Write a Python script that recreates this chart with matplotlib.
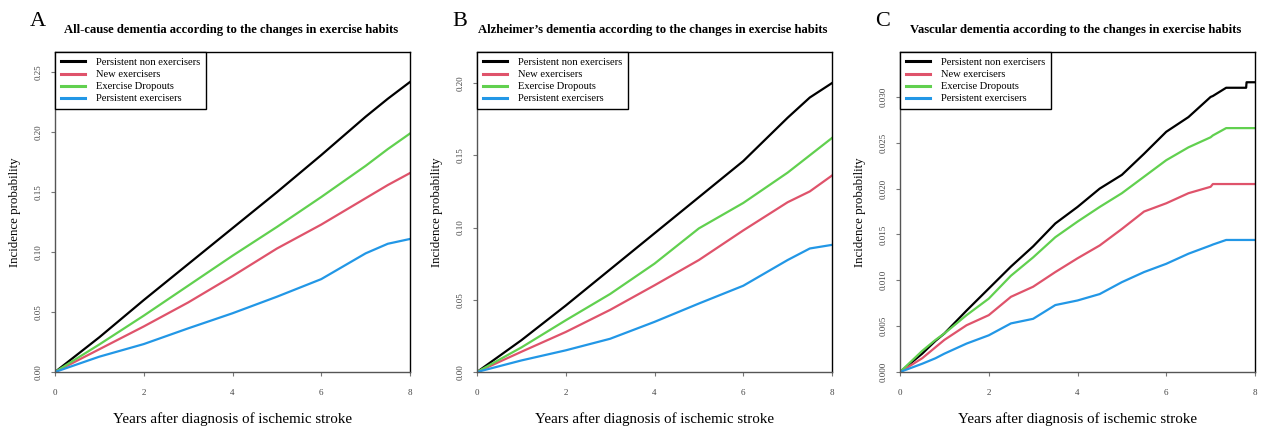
import matplotlib.pyplot as plt
import numpy as np

plt.rcParams['font.family'] = ['Liberation Serif', 'DejaVu Serif']

labels = ['Persistent non exercisers', 'New exercisers', 'Exercise Dropouts', 'Persistent exercisers']
colors = ['black', '#DF536B', '#61D04F', '#2297E6']

# panel A: all-cause dementia
a_years = [0, 1, 2, 3, 4, 5, 6, 7, 7.5, 8]
a_nonex = [0, 0.029, 0.060, 0.090, 0.120, 0.150, 0.181, 0.213, 0.228, 0.242]
a_new = [0, 0.019, 0.038, 0.058, 0.080, 0.103, 0.123, 0.145, 0.156, 0.166]
a_drop = [0, 0.023, 0.047, 0.072, 0.097, 0.121, 0.146, 0.172, 0.186, 0.199]
a_pers = [0, 0.0128, 0.0233, 0.0364, 0.049, 0.0628, 0.0775, 0.099, 0.107, 0.111]

# panel B: Alzheimer's dementia
b_years = [0, 1, 2, 3, 4, 5, 6, 7, 7.5, 8]
b_nonex = [0, 0.022, 0.046, 0.071, 0.096, 0.121, 0.146, 0.176, 0.190, 0.200]
b_new = [0, 0.014, 0.0277, 0.043, 0.060, 0.0775, 0.098, 0.1175, 0.125, 0.136]
b_drop = [0, 0.017, 0.0358, 0.054, 0.075, 0.0994, 0.117, 0.138, 0.150, 0.162]
b_pers = [0, 0.008, 0.015, 0.023, 0.0347, 0.0474, 0.0597, 0.0775, 0.0855, 0.088]

# panel C: vascular dementia
c_years = [0, 0.5, 0.8, 1, 1.5, 2, 2.5, 3, 3.5, 4, 4.5, 5, 5.5, 6, 6.5, 7, 7.05, 7.35, 7.8, 7.81, 8]
c_nonex = [0, 0.0020, 0.0034, 0.0042, 0.0067, 0.0091, 0.0115, 0.0137, 0.0162, 0.0180, 0.0200, 0.0215,
           0.0238, 0.0262, 0.0278, 0.0300, 0.0301, 0.0310, 0.0310, 0.0316, 0.0316]
c_new = [0, 0.0015, 0.0027, 0.0035, 0.0051, 0.0062, 0.0082, 0.0093, 0.0109, 0.0124, 0.0138, 0.0156,
         0.0175, 0.0184, 0.0195, 0.0202, 0.0205, 0.0205, 0.0205, 0.0205, 0.0205]
c_drop = [0, 0.0023, 0.0035, 0.0042, 0.0062, 0.0080, 0.0105, 0.0125, 0.0147, 0.0164, 0.0180, 0.0195,
          0.0213, 0.0231, 0.0245, 0.0256, 0.0258, 0.0266, 0.0266, 0.0266, 0.0266]
c_pers = [0, 0.0009, 0.0015, 0.0020, 0.0031, 0.0040, 0.0053, 0.0058, 0.0073, 0.0078, 0.0085, 0.0098,
          0.0109, 0.0118, 0.0129, 0.0138, 0.0139, 0.0144, 0.0144, 0.0144, 0.0144]

panels = [
    ('A', 'All-cause dementia according to the changes in exercise habits', a_years,
     [a_nonex, a_new, a_drop, a_pers], 0.267, [0, 0.05, 0.10, 0.15, 0.20, 0.25], '%.2f'),
    ('B', 'Alzheimer\u2019s dementia according to the changes in exercise habits', b_years,
     [b_nonex, b_new, b_drop, b_pers], 0.2215, [0, 0.05, 0.10, 0.15, 0.20], '%.2f'),
    ('C', 'Vascular dementia according to the changes in exercise habits', c_years,
     [c_nonex, c_new, c_drop, c_pers], 0.0349, [0, 0.005, 0.010, 0.015, 0.020, 0.025, 0.030], '%.3f'),
]

fig = plt.figure(figsize=(12.64, 4.26), dpi=100)
lefts = [55, 477, 900]

for (letter, title, years, series, ytop, yticks, fmt), left in zip(panels, lefts):
    ax = fig.add_axes([left / 1264, 1 - 372 / 426, 355 / 1264, 320 / 426])
    for vals, col, lab in zip(series, colors, labels):
        ax.plot(years, vals, color=col, lw=1.6, label=lab)
    ax.set_xlim(0, 8)
    ax.set_ylim(0, ytop)
    ax.set_xticks([0, 2, 4, 6, 8])
    ax.set_yticks(yticks)
    ax.set_yticklabels([fmt % v for v in yticks], rotation=90, va='center')
    ax.tick_params(labelsize=6.5, length=3, width=0.8, color='#777777', labelcolor='#444444')
    ax.tick_params(axis='x', pad=9)
    ax.tick_params(axis='y', pad=6)
    for s in ax.spines.values():
        s.set_linewidth(1.0)
    ax.spines['left'].set_color('#555555')
    ax.spines['bottom'].set_color('#555555')
    ax.set_xlabel('Years after diagnosis of ischemic stroke', fontsize=10.8, labelpad=11)
    ax.set_ylabel('Incidence probability', fontsize=9.3, labelpad=10)
    leg = ax.legend(loc='upper left', bbox_to_anchor=(0, 1), borderaxespad=0, fontsize=7.6,
                    fancybox=False, edgecolor='black', framealpha=1, handlelength=2.3,
                    handletextpad=1.0, labelspacing=0.25, borderpad=0.55)
    leg.get_frame().set_linewidth(1.0)
    for h in leg.get_lines():
        h.set_linewidth(2.2)
    fig.text((left + 176) / 1264, 1 - 30 / 426, title, ha='center', va='center',
             fontsize=9.1, fontweight='bold')
    fig.text((left - 25) / 1264, 1 - 22 / 426, letter, ha='left', va='center', fontsize=16)

fig.savefig('out.png', dpi=100)
